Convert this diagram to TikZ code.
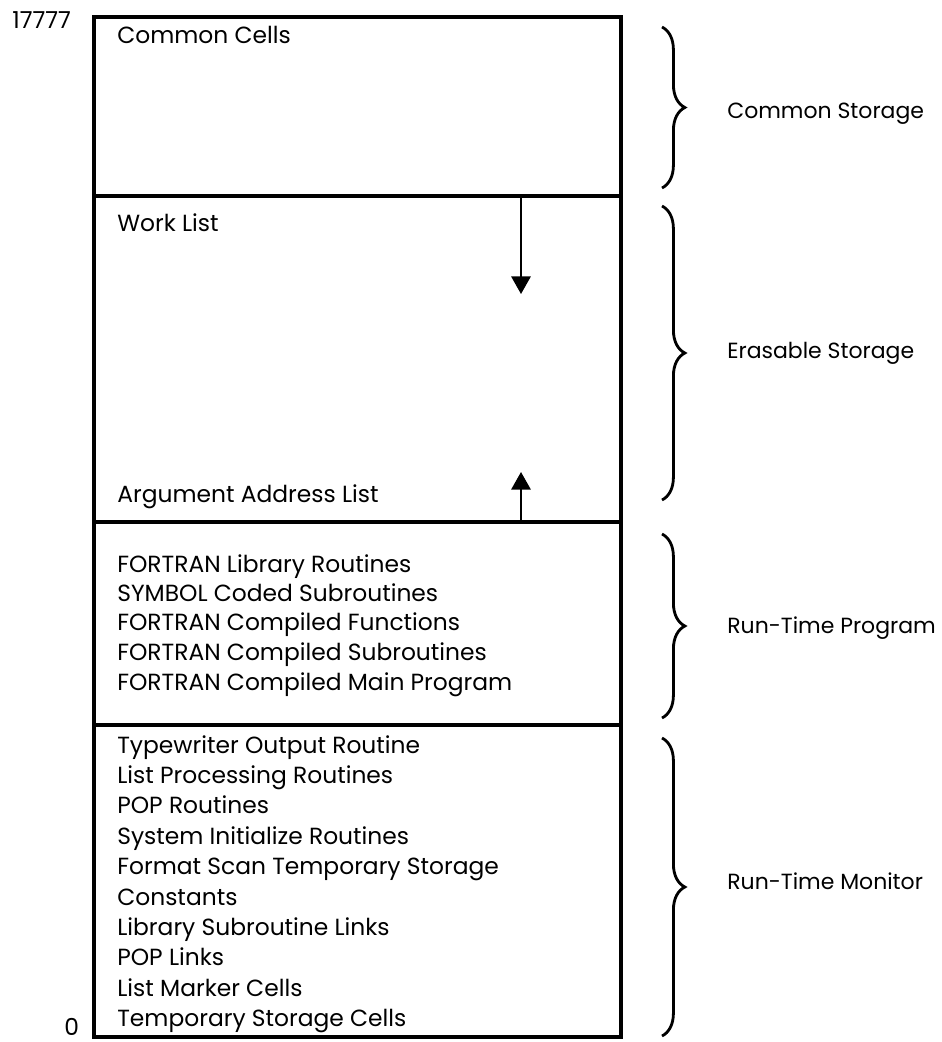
\documentclass[tikz,border=0pt]{standalone}
\usepackage{fontspec}
\setmainfont{Poppins}
\usetikzlibrary{arrows.meta,decorations.pathreplacing}
\tikzset{
  wall/.style={line width=1.8pt},
  entry/.style={anchor=base west,inner sep=0pt,font=\fontsize{13.3}{15}\selectfont},
  side/.style={anchor=base west,inner sep=0pt,font=\fontsize{12.5}{14}\selectfont},
  curly/.style={line width=1.6pt,decorate,decoration={brace,amplitude=13pt}},
  listgrow/.style={line width=1.1pt,-{Triangle[length=10pt,width=11pt]}}
}
\begin{document}
\begin{tikzpicture}[x=0.02cm,y=-0.02cm]
  \useasboundingbox (0,0) rectangle (942,1042);

  % memory column
  \draw[wall] (94,17) rectangle (621,1037);
  \draw[wall] (94,196) -- (621,196);
  \draw[wall] (94,522) -- (621,522);
  \draw[wall] (94,725) -- (621,725);

  \node[entry] (ends) at (12,28) {17777};
  \node[entry] (zero) at (64,1035) {0};

  \node[entry] (common) at (117,43) {Common Cells};
  \node[entry] (work) at (117,231) {Work List};
  \node[entry] (args) at (117,502) {Argument Address List};

  % growing lists
  \coordinate (worktop) at (521,196);
  \coordinate (workend) at (521,294);
  \coordinate (argbot) at (521,522);
  \coordinate (argend) at (521,472);
  \path[draw,listgrow] (worktop) -- (workend);
  \path[draw,listgrow] (argbot) -- (argend);

  \node[entry] (lib) at (117,572) {FORTRAN Library Routines};
  \node[entry] (sym) at (117,601) {SYMBOL Coded Subroutines};
  \node[entry] (fun) at (117,630) {FORTRAN Compiled Functions};
  \node[entry] (sub) at (117,660) {FORTRAN Compiled Subroutines};
  \node[entry] (main) at (117,690) {FORTRAN Compiled Main Program};

  \node[entry] (tw) at (117,753) {Typewriter Output Routine};
  \node[entry] (lp) at (117,783.4) {List Processing Routines};
  \node[entry] (pop) at (117,813.8) {POP Routines};
  \node[entry] (init) at (117,844.2) {System Initialize Routines};
  \node[entry] (fmt) at (117,874.6) {Format Scan Temporary Storage};
  \node[entry] (con) at (117,905) {Constants};
  \node[entry] (links) at (117,935.4) {Library Subroutine Links};
  \node[entry] (poplinks) at (117,965.8) {POP Links};
  \node[entry] (mark) at (117,996.2) {List Marker Cells};
  \node[entry] (temp) at (117,1026.6) {Temporary Storage Cells};

  % braces
  \draw[curly] (662,27) -- (662,188);
  \draw[curly] (662,206) -- (662,500);
  \draw[curly] (662,534) -- (662,718);
  \draw[curly] (662,738) -- (662,1036);

  \node[side] (cs) at (727,118) {Common Storage};
  \node[side] (es) at (727,358) {Erasable Storage};
  \node[side] (rtp) at (727,633) {Run-Time Program};
  \node[side] (rtm) at (727,889) {Run-Time Monitor};
\end{tikzpicture}
\end{document}
